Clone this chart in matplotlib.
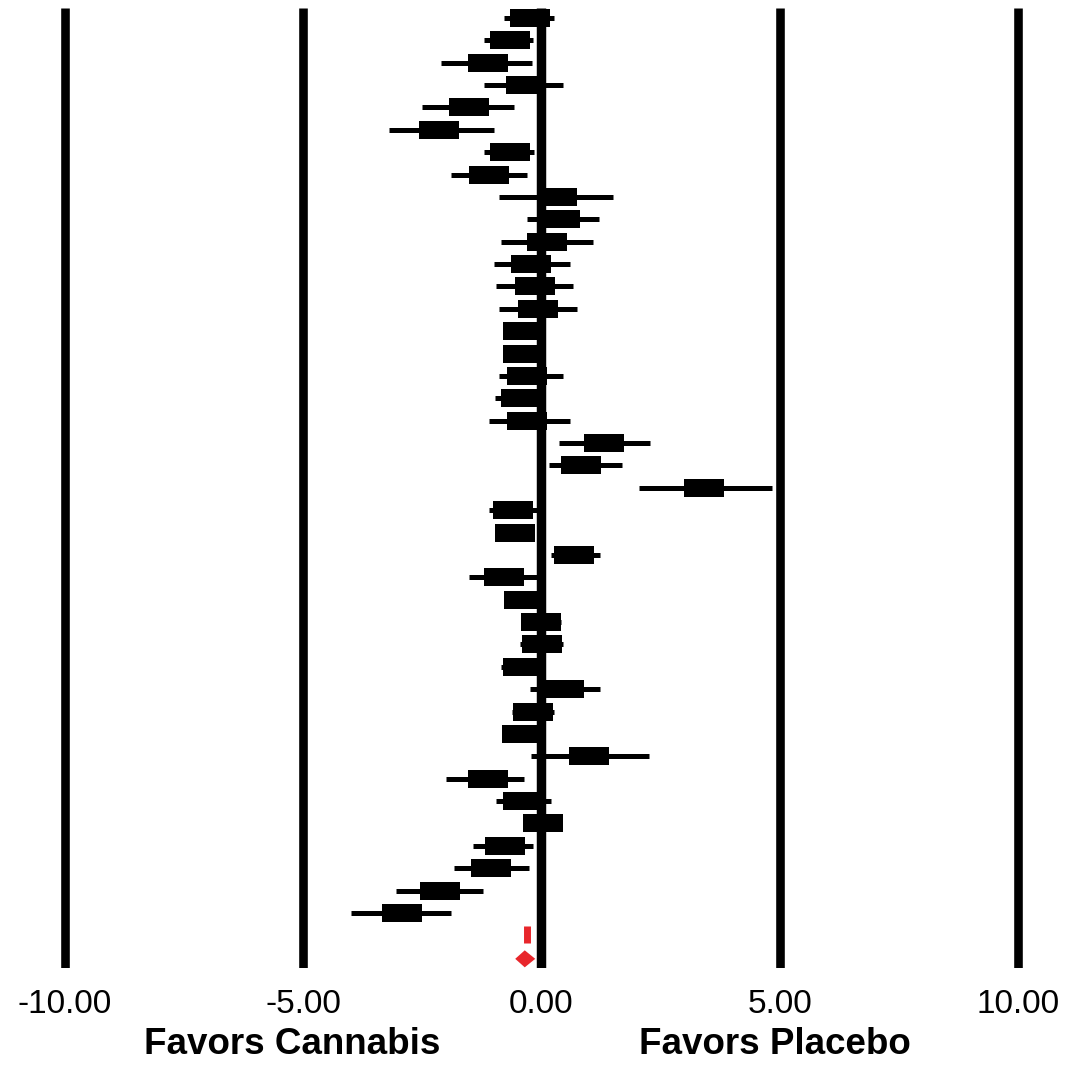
import matplotlib
matplotlib.use("Agg")
import matplotlib.pyplot as plt
import numpy as np

plt.rcParams['font.family'] = ['Liberation Sans', 'DejaVu Sans']

# Study estimates (mean difference) with 95% CI, top to bottom
est = [-0.25, -0.65, -1.13, -0.33, -1.53, -2.14, -0.67, -1.11, 0.32, 0.40,
       0.12, -0.22, -0.14, -0.08, -0.38, -0.38, -0.31, -0.42, -0.30, 1.32,
       0.82, 3.42, -0.59, -0.55, 0.69, -0.78, -0.36, 0.00, 0.02, -0.38,
       0.47, -0.17, -0.40, 1.00, -1.13, -0.38, 0.03, -0.76, -1.05, -2.12,
       -2.92]
lo = [-0.78, -1.20, -2.10, -1.20, -2.50, -3.20, -1.20, -1.90, -0.88, -0.31,
      -0.84, -1.00, -0.95, -0.88, -0.75, -0.75, -0.90, -0.97, -1.10, 0.36,
      0.15, 2.04, -1.11, -0.90, 0.20, -1.51, -0.70, -0.42, -0.46, -0.84,
      -0.25, -0.61, -0.75, -0.21, -2.00, -0.95, -0.30, -1.43, -1.83, -3.05,
      -3.99]
hi = [0.27, -0.17, -0.20, 0.46, -0.57, -1.00, -0.15, -0.31, 1.51, 1.20,
      1.09, 0.60, 0.67, 0.74, 0.00, 0.00, 0.46, 0.00, 0.60, 2.27,
      1.70, 4.83, -0.04, -0.20, 1.22, -0.06, 0.00, 0.42, 0.46, 0.08,
      1.22, 0.27, -0.05, 2.25, -0.36, 0.21, 0.36, -0.17, -0.27, -1.22,
      -1.89]

# Pooled summary
pooled_est = -0.35
pooled_lo = -0.55
pooled_hi = -0.13
pooled_mark = -0.30

tick_vals = [-10, -5, 0, 5, 10]
tick_labels = ['-10.00', '-5.00', '0.00', '5.00', '10.00']
left_label = 'Favors Cannabis'
right_label = 'Favors Placebo'

W, H = 1070, 1073
fig = plt.figure(figsize=(W / 100, H / 100), dpi=100)
ax_bottom_px = 968
ax = fig.add_axes([0, (H - ax_bottom_px) / H, 1, ax_bottom_px / H])

n = len(est)
ys = np.arange(n)
ax.set_xlim(-11.36, 11.09)
ax.set_ylim(42.46, -0.804)

# reference vertical lines
for t in tick_vals:
    ax.vlines(t, -0.45, 42.46, color='black', lw=6.8 if t == 0 else 6.2, zorder=2)

# CI lines
ax.hlines(ys, lo, hi, color='black', lw=3.6, zorder=3)
# boxes
box = [(-1, -0.475), (1, -0.475), (1, 0.475), (-1, 0.475)]
ax.scatter(est, ys, marker=box, s=28.5 ** 2, color='black', linewidths=0, zorder=4)

# summary
ax.vlines(pooled_mark, 40.6, 41.35, color='#e8262b', lw=5, zorder=5)
yd = 42.05
diamond_x = [pooled_lo, pooled_est, pooled_hi, pooled_est]
diamond_y = [yd, yd - 0.38, yd, yd + 0.38]
ax.fill(diamond_x, diamond_y, color='#e8262b', zorder=5, lw=0)

ax.set_xticks(tick_vals)
ax.set_xticklabels(tick_labels, fontsize=24)
ax.tick_params(axis='x', length=0, pad=15)
ax.set_yticks([])
for s in ax.spines.values():
    s.set_visible(False)

fig.text(292 / W, 1 - 1045 / H, left_label, ha='center', va='center',
         fontsize=26.5, fontweight='bold')
fig.text(775 / W, 1 - 1045 / H, right_label, ha='center', va='center',
         fontsize=26.5, fontweight='bold')

fig.savefig('out.png', dpi=100, facecolor='white')
